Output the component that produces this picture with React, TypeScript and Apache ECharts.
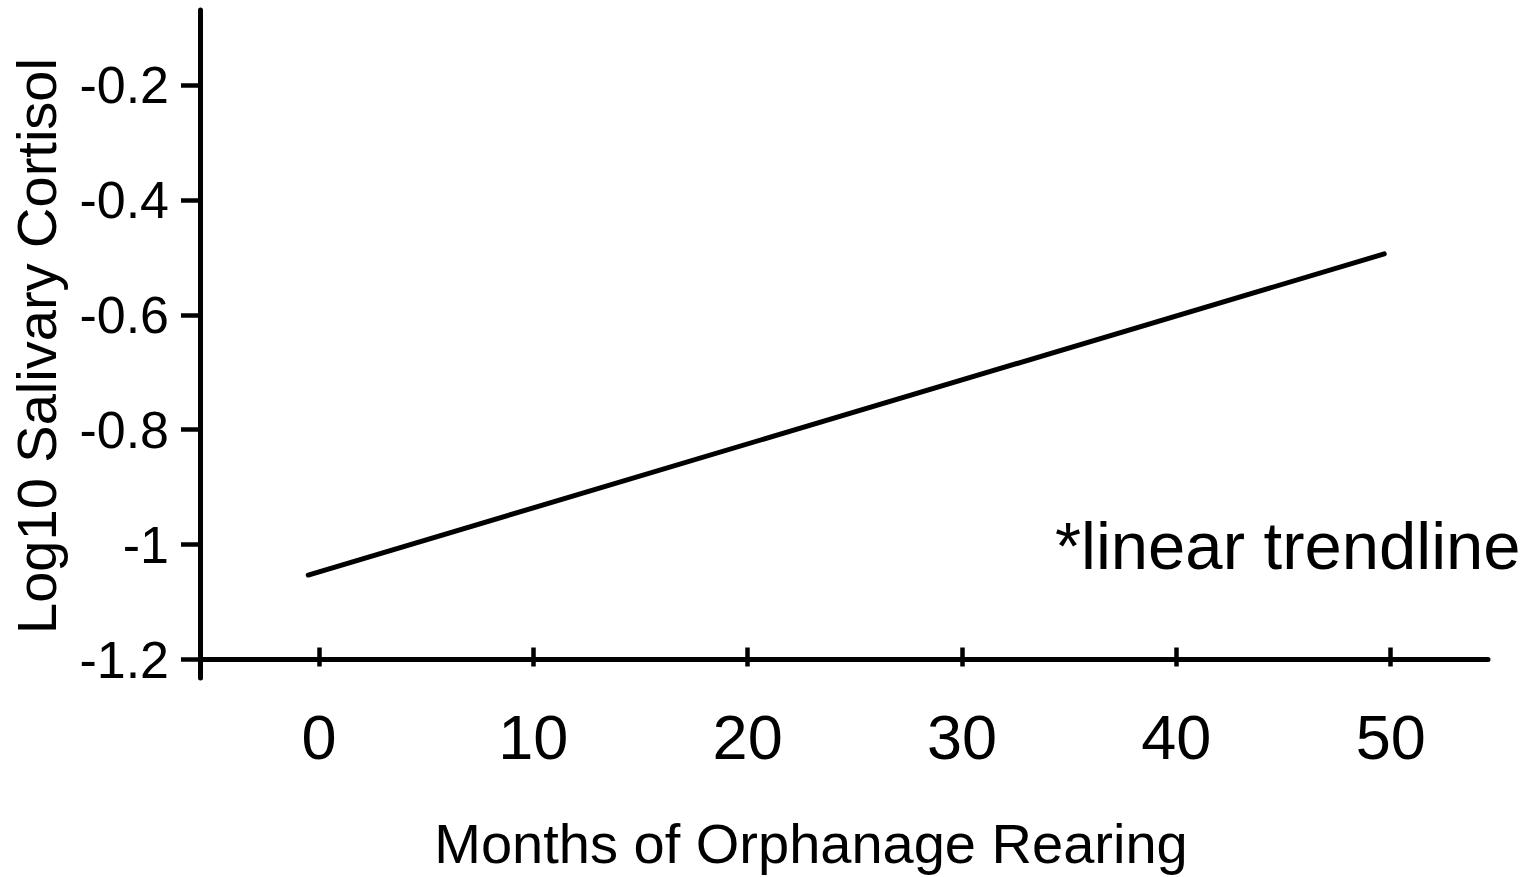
import React, { useEffect, useRef } from "react";
import * as echarts from "echarts";

const xTicks = [0, 10, 20, 30, 40, 50];
const yTicks = [-1.2, -1, -0.8, -0.6, -0.4, -0.2];
const trendMonths = [-0.5, 49.7];
const trendCortisol = [-1.053, -0.494];
const xTitle = "Months of Orphanage Rearing";
const yTitle = "Log10 Salivary Cortisol";
const note = "*linear trendline";

const X_MIN = -5.55;
const X_MAX = 54.54;
const Y_MIN = -1.2;
const Y_MAX = -0.0695;

const FONT = "'Liberation Sans', Arial, Helvetica, sans-serif";

export default function App() {
  const ref = useRef<HTMLDivElement>(null);
  useEffect(() => {
    if (!ref.current) return;
    const chart = echarts.init(ref.current, undefined, { renderer: "svg" });
    const black = "#000";
    chart.setOption({
      animation: false,
      backgroundColor: "#fff",
      textStyle: { fontFamily: FONT },
      grid: [
        { left: 200, right: 44, top: 10, bottom: 217.5 },
        { left: 200, right: 44, top: 10, bottom: 199 },
      ],
      xAxis: [
        {
          type: "value",
          gridIndex: 0,
          position: "bottom",
          min: X_MIN,
          max: X_MAX,
          axisLine: { show: true, onZero: false, lineStyle: { color: black, width: 5, cap: "round" } },
          axisTick: {
            show: true,
            inside: true,
            length: 12,
            customValues: xTicks,
            lineStyle: { color: black, width: 4.5 },
          },
          axisLabel: { show: false },
          splitLine: { show: false },
        },
        {
          type: "value",
          gridIndex: 0,
          position: "bottom",
          min: X_MIN,
          max: X_MAX,
          axisLine: { show: false, onZero: false },
          axisTick: {
            show: true,
            inside: false,
            length: 7,
            customValues: xTicks,
            lineStyle: { color: black, width: 4.5 },
          },
          axisLabel: {
            show: true,
            customValues: xTicks,
            margin: 46,
            color: black,
            fontSize: 63,
            fontFamily: FONT,
            formatter: (v: number) => String(v),
          },
          splitLine: { show: false },
        },
        { type: "value", gridIndex: 1, show: false, min: 0, max: 1 },
      ],
      yAxis: [
        {
          type: "value",
          gridIndex: 0,
          min: Y_MIN,
          max: Y_MAX,
          axisLine: { show: false, onZero: false },
          axisTick: {
            show: true,
            inside: false,
            length: 19,
            customValues: yTicks,
            lineStyle: { color: black, width: 4.5 },
          },
          axisLabel: {
            show: true,
            customValues: yTicks,
            margin: 31,
            color: black,
            fontSize: 52,
            fontFamily: FONT,
            formatter: (v: number) => String(Math.round(v * 10) / 10),
          },
          splitLine: { show: false },
        },
        {
          type: "value",
          gridIndex: 1,
          min: 0,
          max: 1,
          axisLine: { show: true, onZero: false, lineStyle: { color: black, width: 5, cap: "round" } },
          axisTick: { show: false },
          axisLabel: { show: false },
          splitLine: { show: false },
        },
      ],
      series: [
        {
          type: "line",
          xAxisIndex: 0,
          yAxisIndex: 0,
          data: trendMonths.map((m, i) => [m, trendCortisol[i]]),
          showSymbol: false,
          symbol: "none",
          silent: true,
          lineStyle: { color: black, width: 5, cap: "round" },
        },
      ],
      graphic: [
        {
          type: "text",
          x: 811,
          y: 843,
          style: {
            text: xTitle,
            fill: black,
            font: `56px ${FONT}`,
            align: "center",
            verticalAlign: "middle",
          },
        },
        {
          type: "text",
          x: 36,
          y: 346,
          rotation: Math.PI / 2,
          style: {
            text: yTitle,
            fill: black,
            font: `56px ${FONT}`,
            align: "center",
            verticalAlign: "middle",
          },
        },
        {
          type: "text",
          x: 1055,
          y: 545,
          style: {
            text: note,
            fill: black,
            font: `67px ${FONT}`,
            align: "left",
            verticalAlign: "middle",
          },
        },
      ],
    });
    return () => chart.dispose();
  }, []);
  return (
    <div
      ref={ref}
      style={{ position: "fixed", left: 0, top: 0, width: 1532, height: 877, background: "#fff" }}
    />
  );
}
